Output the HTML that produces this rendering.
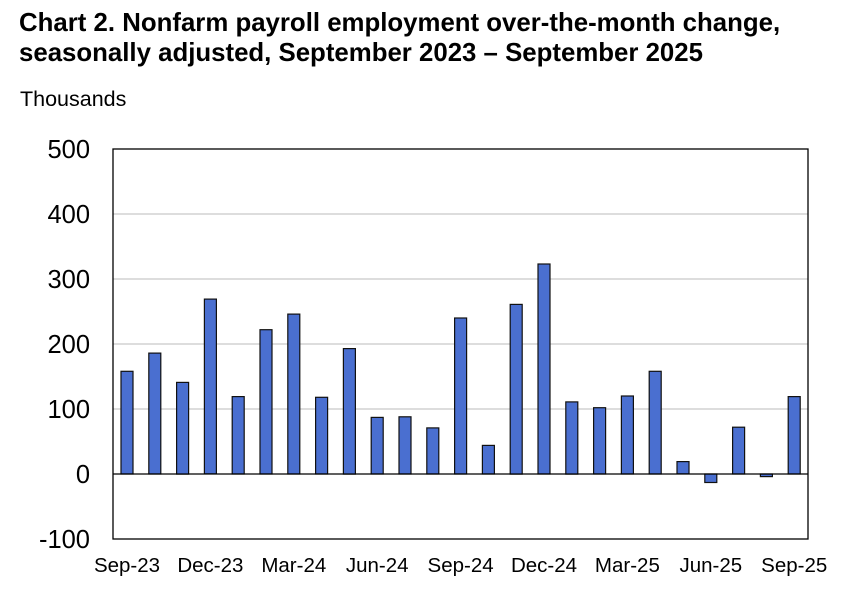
<!DOCTYPE html>
<html><head><meta charset="utf-8"><style>
body{margin:0;background:#fff;width:851px;height:604px;overflow:hidden}
svg{display:block}
text{font-family:"Liberation Sans",Arial,sans-serif;fill:#000}
</style></head><body>
<svg width="851" height="604" id="s">
<text x="19" y="31" font-size="25.8" font-weight="bold">Chart 2. Nonfarm payroll employment over-the-month change,</text>
<text x="19" y="61" font-size="25.8" font-weight="bold">seasonally adjusted, September 2023 – September 2025</text>
<text x="20" y="106" font-size="21.5">Thousands</text>
<g id="g"></g>
</svg>
<script>
var g=document.getElementById('g'),h='';
var L=113,R=808,T=149,B=539,Z=474,k=0.65;
[400,300,200,100].forEach(function(v){var y=Z-v*k;h+='<line x1="'+L+'" x2="'+R+'" y1="'+y+'" y2="'+y+'" stroke="#bbb" stroke-width="1"/>';});
[500,400,300,200,100,0,-100].forEach(function(v){var y=Z-v*k;h+='<text x="90" y="'+(y+9)+'" font-size="25.5" text-anchor="end">'+v+'</text>';});
var d=[158,186,141,269,119,222,246,118,193,87,88,71,240,44,261,323,111,102,120,158,19,-13,72,-4,119];
d.forEach(function(v,i){var x=121+i*27.8,y=v>=0?Z-v*k:Z,hh=Math.abs(v)*k;
h+='<rect x="'+x.toFixed(1)+'" y="'+y.toFixed(1)+'" width="12" height="'+hh.toFixed(1)+'" fill="#4a6fd0" stroke="#111" stroke-width="1.2"/>';});
h+='<line x1="'+L+'" x2="'+R+'" y1="'+Z+'" y2="'+Z+'" stroke="#000" stroke-width="1.3"/>';
h+='<rect x="'+L+'" y="'+T+'" width="'+(R-L)+'" height="'+(B-T)+'" fill="none" stroke="#000" stroke-width="1.3"/>';
['Sep-23','Dec-23','Mar-24','Jun-24','Sep-24','Dec-24','Mar-25','Jun-25','Sep-25'].forEach(function(s,j){var x=127+j*3*27.8;h+='<text x="'+x.toFixed(1)+'" y="572" font-size="20.5" text-anchor="middle">'+s+'</text>';});
g.innerHTML=h;
</script>
</body></html>
